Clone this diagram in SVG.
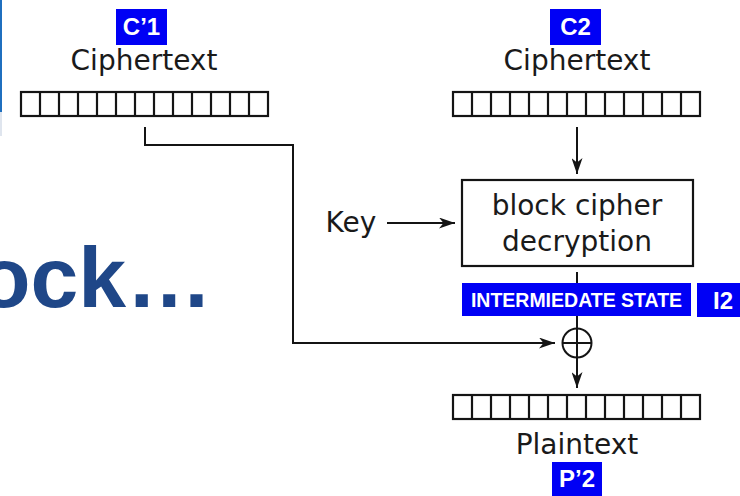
<svg xmlns="http://www.w3.org/2000/svg" width="740" height="496" viewBox="0 0 740 496">
<style>
.lbl{font-family:"DejaVu Sans",sans-serif;font-size:28px;fill:#1a1a1a;text-anchor:middle}
.tag{font-family:"Liberation Sans",Arial,sans-serif;font-weight:bold;fill:#fff;text-anchor:middle}
.blue{fill:#0000f5}
.ln{fill:none;stroke:#141414;stroke-width:2}
</style>
<defs>
<marker id="ah" viewBox="0 0 16 11" markerWidth="16" markerHeight="11" refX="16" refY="5.5" orient="auto" markerUnits="userSpaceOnUse">
<path d="M0 0 L16 5.5 L0 11 L4.5 5.5 Z" fill="#141414"/>
</marker>
<g id="blk">
<rect x="0" y="0" width="247" height="24" fill="#fff" stroke="#141414" stroke-width="2.2"/>
<path d="M19 0v24M38 0v24M57 0v24M76 0v24M95 0v24M114 0v24M133 0v24M152 0v24M171 0v24M190 0v24M209 0v24M228 0v24" stroke="#141414" stroke-width="2.2"/>
</g>
</defs>
<rect width="740" height="496" fill="#fff"/>
<rect x="0" y="0" width="2" height="112" fill="#1f6fbf"/>
<rect x="0" y="112" width="2" height="24" fill="#dfe5ee"/>
<text x="-22" y="307" font-family="'Liberation Sans',Arial,sans-serif" font-weight="bold" font-size="86" fill="#1f4788">ock…</text>
<g id="connectors">
<path class="ln" d="M145 127 V145 H293 V343 H555" marker-end="url(#ah)"/>
<path class="ln" d="M577 127 V174" marker-end="url(#ah)"/>
<path class="ln" d="M387 223 H455" marker-end="url(#ah)"/>
<path class="ln" d="M577 272 V329"/>
<path class="ln" d="M577 357 V388" marker-end="url(#ah)"/>
</g>
<g id="c1">
<rect class="blue" x="116" y="9" width="51" height="36"/>
<text class="tag" x="141.5" y="35" font-size="24">C’1</text>
<text class="lbl" x="144" y="70">Ciphertext</text>
<use href="#blk" x="21" y="92"/>
</g>
<g id="c2">
<rect class="blue" x="550" y="9" width="51" height="36"/>
<text class="tag" x="575.5" y="35" font-size="24">C2</text>
<text class="lbl" x="577" y="70">Ciphertext</text>
<use href="#blk" x="453" y="92"/>
</g>
<g id="key">
<text class="lbl" x="351" y="232">Key</text>
</g>
<g id="decrypt">
<rect x="462" y="180" width="231" height="86" fill="#fff" stroke="#141414" stroke-width="2.2"/>
<text class="lbl" x="577" y="215">block cipher</text>
<text class="lbl" x="577" y="251">decryption</text>
</g>
<g id="istate">
<rect class="blue" x="462" y="283" width="229" height="33"/>
<text class="tag" x="576.5" y="307" font-size="19.5">INTERMIEDATE STATE</text>
<rect class="blue" x="697" y="283" width="43" height="34"/>
<text class="tag" x="723" y="309" font-size="24">I2</text>
</g>
<g id="xor">
<circle cx="577" cy="343" r="14.5" fill="#fff" stroke="#141414" stroke-width="2"/>
<path class="ln" d="M562.5 343 H591.5 M577 328.5 V357.5"/>
</g>
<g id="p2">
<use href="#blk" x="453" y="395"/>
<text class="lbl" x="577" y="454">Plaintext</text>
<rect class="blue" x="552" y="462" width="50" height="34"/>
<text class="tag" x="577" y="487" font-size="24">P’2</text>
</g>
</svg>
